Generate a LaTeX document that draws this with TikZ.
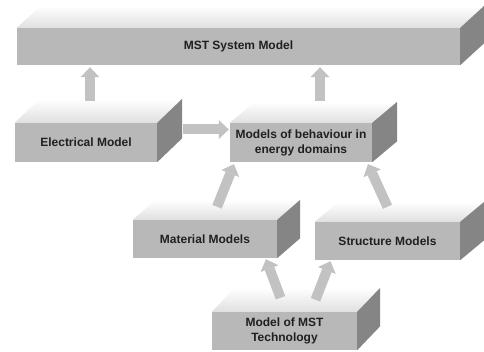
\documentclass[tikz,border=0pt]{standalone}
\usepackage{fontspec}
\setmainfont{Liberation Sans}
\usetikzlibrary{arrows.meta}
\definecolor{frontc}{HTML}{B8B8B8}
\definecolor{sidec}{HTML}{858585}
\definecolor{topc}{HTML}{E0E0E0}
\definecolor{arrc}{HTML}{C2C2C2}
\definecolor{txtc}{HTML}{202020}
\tikzset{
  cubefront/.style={fill=frontc, inner sep=0pt, align=center,
    font=\bfseries\fontsize{12}{15}\selectfont, text=txtc},
  blockarrow/.style={draw=arrc, line width=10pt,
    -{Triangle[width=19pt,length=10pt,line width'=0pt]}},
}
\newcommand\cubefaces[3]{%
  \shade[top color=white,bottom color=topc] (#1.north west) -- ++(#2pt,#3pt)
    -- ([shift={(#2pt,#3pt)}]#1.north east) -- (#1.north east) -- cycle;
  \fill[sidec] (#1.north east) -- ++(#2pt,#3pt)
    -- ([shift={(#2pt,#3pt)}]#1.south east) -- (#1.south east) -- cycle;
}
\begin{document}
\begin{tikzpicture}[x=1pt,y=-1pt]
\useasboundingbox (0,0) rectangle (484,352);
\fill[white] (0,0) rectangle (484,352);

\node[cubefront, minimum width=443pt, minimum height=37pt] (sys) at (238.5,46.5) {MST System Model};
\cubefaces{sys}{24}{22}

\node[cubefront, minimum width=142pt, minimum height=39pt] (elec) at (86,142.5) {Electrical Model};
\cubefaces{elec}{25}{24}

\node[cubefront, minimum width=142pt, minimum height=39pt] (beh) at (301,142.5) {Models of behaviour in\\energy domains};
\cubefaces{beh}{25}{21}

\node[cubefront, minimum width=144pt, minimum height=38pt] (mat) at (205,239) {Material Models};
\cubefaces{mat}{23}{20}

\node[cubefront, minimum width=145pt, minimum height=38pt] (str) at (387.5,241) {Structure Models};
\cubefaces{str}{24}{20}

\node[cubefront, minimum width=145pt, minimum height=38pt] (tech) at (284.5,331) {Model of MST\\Technology};
\cubefaces{tech}{23}{24}

\draw[blockarrow] ([shift={(4pt,22pt)}]elec.north) -- ([shift={(4pt,-2pt)}]elec.north |- sys.south);
\draw[blockarrow] ([shift={(19pt,22pt)}]beh.north) -- ([shift={(19pt,-2pt)}]beh.north |- sys.south);
\draw[blockarrow] ([shift={(26pt,13pt)}]elec.east) -- ([shift={(-1pt,13pt)}]beh.west);
\draw[blockarrow] ([shift={(12pt,13pt)}]mat.north) -- ([shift={(-67pt,-2pt)}]beh.south);
\draw[blockarrow] ([shift={(0pt,15pt)}]str.north) -- ([shift={(67pt,-2pt)}]beh.south);
\draw[blockarrow] ([shift={(-4pt,14pt)}]tech.north) -- ([shift={(61pt,-1pt)}]mat.south);
\draw[blockarrow] ([shift={(31pt,12pt)}]tech.north) -- ([shift={(-57pt,-1pt)}]str.south);
\end{tikzpicture}
\end{document}
